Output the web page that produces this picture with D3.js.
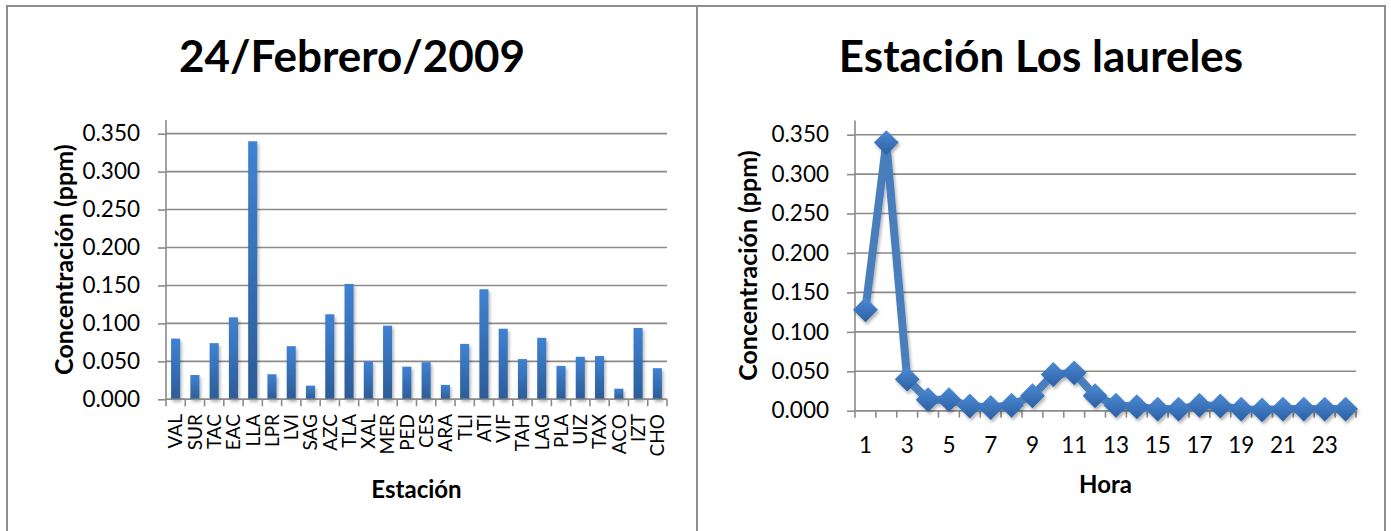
<!DOCTYPE html>
<html>
<head>
<meta charset="utf-8">
<script src="https://cdn.jsdelivr.net/npm/d3@7"></script>
<style>
  html, body { margin: 0; padding: 0; background: #fff; }
  svg { display: block; font-family: Lato, "Open Sans", sans-serif; }
</style>
</head>
<body>
<svg id="chart" width="1391" height="531"></svg>
<script>
// Concentración por estación, 24/Febrero/2009
const stations = ["VAL","SUR","TAC","EAC","LLA","LPR","LVI","SAG","AZC","TLA","XAL","MER","PED",
                  "CES","ARA","TLI","ATI","VIF","TAH","LAG","PLA","UIZ","TAX","ACO","IZT","CHO"];
const stationValues = [0.080,0.032,0.074,0.108,0.340,0.033,0.070,0.018,0.112,0.152,0.050,0.097,0.043,
                       0.049,0.019,0.073,0.145,0.093,0.053,0.081,0.044,0.056,0.057,0.014,0.094,0.041];

// Estación Los laureles, concentración por hora
const hours = d3.range(1, 25);
const hourValues = [0.128,0.340,0.040,0.014,0.014,0.006,0.004,0.007,0.019,0.046,0.048,0.019,
                    0.007,0.005,0.002,0.002,0.007,0.006,0.002,0.001,0.002,0.002,0.002,0.002];

const yTicks = [0, 0.05, 0.10, 0.15, 0.20, 0.25, 0.30, 0.35];
const hourTickLabels = hours.filter(h => h % 2 === 1);

const titles = ["24/Febrero/2009", "Estación Los laureles"];
const yTitle = "Concentración (ppm)";
const xTitles = ["Estación", "Hora"];

const svg = d3.select("#chart");
const gridColor = "#8b8b8b";
const fmt = d3.format(".3f");

const defs = svg.append("defs");
const barGrad = defs.append("linearGradient").attr("id", "barGrad")
  .attr("x1", 0).attr("y1", 0).attr("x2", 0).attr("y2", 1);
barGrad.append("stop").attr("offset", "0%").attr("stop-color", "#3f82d2");
barGrad.append("stop").attr("offset", "100%").attr("stop-color", "#2c5c97");

const dGrad = defs.append("linearGradient").attr("id", "diamondGrad")
  .attr("x1", 0).attr("y1", 0).attr("x2", 1).attr("y2", 1);
dGrad.append("stop").attr("offset", "0%").attr("stop-color", "#4d8bd6");
dGrad.append("stop").attr("offset", "100%").attr("stop-color", "#2b5fa2");

const shadow = defs.append("filter").attr("id", "shadow")
  .attr("x", "-30%").attr("y", "-30%").attr("width", "160%").attr("height", "160%");
shadow.append("feDropShadow").attr("dx", 1.5).attr("dy", 2.5).attr("stdDeviation", 1.8)
  .attr("flood-color", "#000").attr("flood-opacity", 0.3);

// Chart frames
const frames = [[7, 697], [697, 1385]];
frames.forEach(([x0, x1]) => {
  svg.append("rect").attr("x", x0).attr("y", 6).attr("width", x1 - x0).attr("height", 560)
    .attr("fill", "none").attr("stroke", "#8e8e8e").attr("stroke-width", 2);
});

function drawYAxis(g, y, x0, x1, titleX) {
  // gridlines
  g.selectAll(".grid").data(yTicks).join("line")
    .attr("x1", x0).attr("x2", x1)
    .attr("y1", d => y(d)).attr("y2", d => y(d))
    .attr("stroke", gridColor).attr("stroke-width", 1.6);
  const axis = g.append("g").attr("transform", `translate(${x0},0)`)
    .call(d3.axisLeft(y).tickValues(yTicks).tickFormat(fmt).tickSize(8).tickPadding(18));
  axis.select(".domain").attr("stroke", gridColor).attr("stroke-width", 1.6)
    .attr("d", `M0,${y.range()[0]}V${y.range()[1]}`);
  axis.selectAll(".tick line").attr("stroke", gridColor).attr("stroke-width", 1.6);
  axis.selectAll(".tick text").attr("font-size", 22.5).attr("fill", "#000")
    .attr("font-family", "Lato, sans-serif");
  const [b, t] = y.range();
  g.append("text")
    .attr("transform", `translate(${titleX},${(b + t) / 2}) rotate(-90)`)
    .attr("text-anchor", "middle").attr("dy", "0.35em")
    .attr("font-size", 25).attr("font-weight", 700).text(yTitle);
}

// Axis line with tick marks on the band boundaries
function drawBandTicks(g, x, yBase) {
  const step = x.step();
  const edges = d3.range(x.domain().length + 1).map(i => x.range()[0] + i * step);
  g.selectAll(".xt").data(edges).join("line")
    .attr("x1", d => d).attr("x2", d => d)
    .attr("y1", yBase).attr("y2", yBase + 7)
    .attr("stroke", gridColor).attr("stroke-width", 1.6);
  g.append("line").attr("x1", x.range()[0]).attr("x2", x.range()[1])
    .attr("y1", yBase).attr("y2", yBase)
    .attr("stroke", gridColor).attr("stroke-width", 1.6);
}

// ---- Left: bars by station ----
{
  const g = svg.append("g");
  const x = d3.scaleBand().domain(stations).range([166, 667]).paddingInner(0.53).paddingOuter(0.265);
  const y = d3.scaleLinear().domain([0, 0.368]).range([399.3, 120]);
  const xb = d3.scaleBand().domain(stations).range([166, 667]);

  drawYAxis(g, y, 166, 667, 64);

  g.append("g").attr("filter", "url(#shadow)")
    .selectAll("rect").data(stations).join("rect")
    .attr("x", d => x(d)).attr("width", x.bandwidth())
    .attr("y", (d, i) => y(stationValues[i]))
    .attr("height", (d, i) => y(0) - y(stationValues[i]))
    .attr("fill", "url(#barGrad)");

  drawBandTicks(g, xb, y(0));

  g.selectAll(".cat").data(stations).join("text")
    .attr("transform", d => `translate(${xb(d) + xb.bandwidth() / 2},${414}) rotate(-90)`)
    .attr("text-anchor", "end").attr("dy", "0.36em")
    .attr("font-size", 19).text(d => d);

  g.append("text").attr("x", 416.5).attr("y", 498).attr("text-anchor", "middle")
    .attr("font-size", 24).attr("font-weight", 700).text(xTitles[0]);

  g.append("text").attr("x", 352).attr("y", 72).attr("text-anchor", "middle")
    .attr("font-size", 44).attr("font-weight", 700).text(titles[0]);
}

// ---- Right: hourly line ----
{
  const g = svg.append("g");
  const x = d3.scaleBand().domain(hours).range([855, 1356]);
  const y = d3.scaleLinear().domain([0, 0.368]).range([410.7, 120.5]);
  const cx = h => x(h) + x.bandwidth() / 2;

  drawYAxis(g, y, 855, 1356, 748);
  drawBandTicks(g, x, y(0));

  g.selectAll(".hl").data(hourTickLabels).join("text")
    .attr("x", d => cx(d)).attr("y", 453).attr("text-anchor", "middle")
    .attr("font-size", 22.5).text(d => d);

  const line = d3.line().x((d, i) => cx(hours[i])).y(d => y(d));
  const series = g.append("g").attr("filter", "url(#shadow)");
  series.append("path").datum(hourValues).attr("d", line)
    .attr("fill", "none").attr("stroke", "#4a7ebd").attr("stroke-width", 8)
    .attr("stroke-linejoin", "miter");

  const diamond = d3.symbol(d3.symbolSquare, 310);
  series.selectAll(".pt").data(hourValues).join("path")
    .attr("d", diamond)
    .attr("transform", (d, i) => `translate(${cx(hours[i])},${y(d)}) rotate(45)`)
    .attr("fill", "url(#diamondGrad)");

  g.append("text").attr("x", 1105.5).attr("y", 493).attr("text-anchor", "middle")
    .attr("font-size", 24).attr("font-weight", 700).text(xTitles[1]);

  g.append("text").attr("x", 1041).attr("y", 72).attr("text-anchor", "middle")
    .attr("font-size", 44).attr("font-weight", 700).text(titles[1]);
}
</script>
</body>
</html>
